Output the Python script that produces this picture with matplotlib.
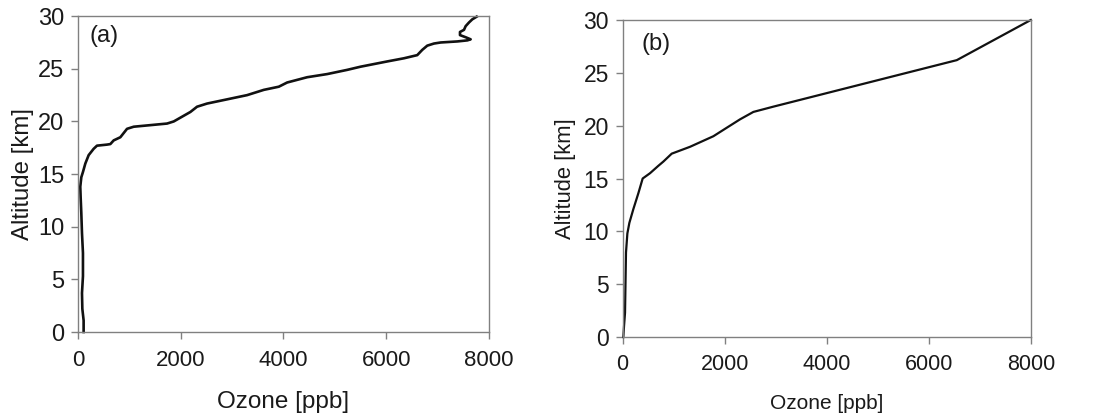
import matplotlib
matplotlib.use('Agg')
import matplotlib.pyplot as plt

# (a) measured profile
ozone_a = [110, 110, 85, 78, 97, 97, 78, 65, 52, 45, 65, 97, 143, 208, 305, 370,
           565, 630, 695, 825, 890, 955, 1085, 1410, 1734, 1864, 2026, 2188, 2318,
           2513, 2903, 3292, 3617, 3909, 4072, 4461, 4851, 5241, 5500, 6020, 6345,
           6604, 6702, 6799, 6929, 7059, 7384, 7579, 7644, 7546, 7436, 7436, 7514,
           7546, 7611, 7676, 7760]
alt_a = [0.0, 1.1, 2.2, 3.7, 5.3, 7.5, 9.4, 11.3, 12.8, 13.8, 14.7, 15.2, 16.0,
         16.8, 17.4, 17.7, 17.8, 17.85, 18.2, 18.5, 18.9, 19.3, 19.5, 19.65, 19.8,
         20.0, 20.45, 20.9, 21.4, 21.7, 22.1, 22.5, 23.0, 23.3, 23.7, 24.2, 24.5,
         24.9, 25.2, 25.7, 26.0, 26.3, 26.8, 27.2, 27.4, 27.5, 27.6, 27.7, 27.8,
         28.0, 28.2, 28.5, 28.7, 29.05, 29.4, 29.7, 29.95]

# (b) model profile
ozone_b = [13, 26, 46, 65, 92, 131, 209, 307, 392, 536, 699, 797, 961, 1320, 1778,
           2039, 2301, 2562, 2954, 3608, 4261, 4915, 6549, 8000]
alt_b = [0.0, 1.0, 2.3, 8.0, 9.8, 10.8, 12.1, 13.6, 15.0, 15.5, 16.2, 16.6, 17.35,
         18.0, 19.0, 19.8, 20.6, 21.3, 21.8, 22.6, 23.4, 24.2, 26.2, 30.0]

xticks = [0, 2000, 4000, 6000, 8000]
yticks = [0, 5, 10, 15, 20, 25, 30]

plt.rcParams['font.family'] = ['Liberation Sans', 'DejaVu Sans']

fig = plt.figure(figsize=(11.06, 4.2), dpi=100)
ax1 = fig.add_axes([0.0705, 0.2095, 0.3716, 0.752])
ax2 = fig.add_axes([0.563, 0.1976, 0.369, 0.7548])

# ax, x, y, tag, tag pos, xlabel size, ylabel size, xtick size, ytick size,
# xtick pad, xlabel pad, ylabel pad, line width
panels = [(ax1, ozone_a, alt_a, '(a)', (0.027, 0.972), 17.5, 17.3, 16, 17, 8, 14, 3, 1.9),
          (ax2, ozone_b, alt_b, '(b)', (0.047, 0.959), 15, 15.8, 15.5, 16.5, 7, 14, 5, 1.6)]

for ax, x, y, tag, pos, xl_size, yl_size, xt_size, yt_size, xpad, xlpad, ylpad, lw in panels:
    ax.plot(x, y, color='#111111', lw=lw, clip_on=False, solid_joinstyle='round')
    ax.set_xlim(0, 8000)
    ax.set_ylim(0, 30)
    ax.set_xticks(xticks)
    ax.set_yticks(yticks)
    for s in ax.spines.values():
        s.set_color('#808080')
        s.set_linewidth(1.0)
    ax.tick_params(direction='out', length=5, width=1, color='#808080',
                   labelcolor='#1a1a1a')
    ax.tick_params(axis='x', labelsize=xt_size, pad=xpad)
    ax.tick_params(axis='y', labelsize=yt_size, pad=5)
    ax.set_xlabel('Ozone [ppb]', fontsize=xl_size, color='#1a1a1a', labelpad=xlpad)
    ax.set_ylabel('Altitude [km]', fontsize=yl_size, color='#1a1a1a', labelpad=ylpad)
    ax.text(pos[0], pos[1], tag, transform=ax.transAxes, fontsize=17,
            va='top', ha='left', color='#1a1a1a')

plt.savefig('out.png', dpi=100)
